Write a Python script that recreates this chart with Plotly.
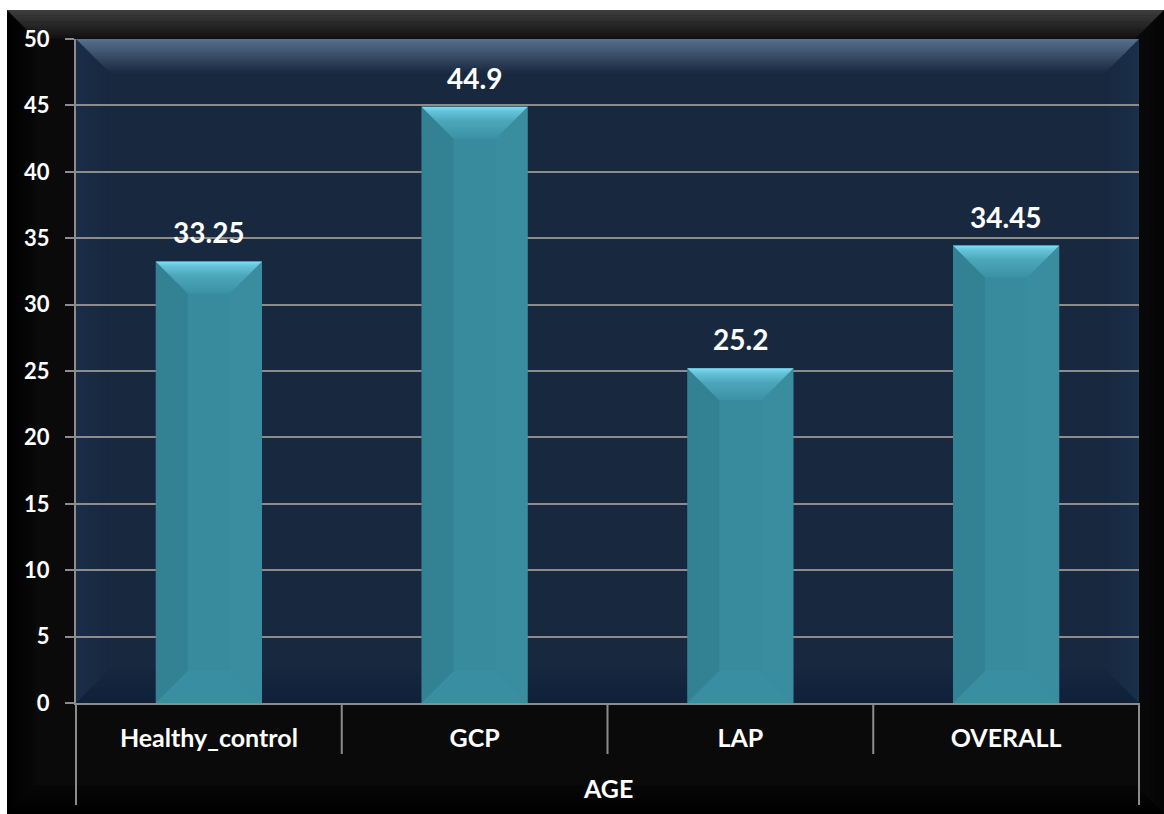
import plotly.graph_objects as go

# ---- data ----
categories = ["Healthy_control", "GCP", "LAP", "OVERALL"]
age_values = [33.25, 44.9, 25.2, 34.45]
group_label = "AGE"
y_ticks = list(range(0, 51, 5))

# ---- canvas geometry (pixels) ----
W, H = 1164, 814
ML, MR, MT, MB = 76, 25, 39, 111
PW = W - ML - MR
PH = H - MT - MB

FONT = "Lato, 'Open Sans', sans-serif"
GRID = "#8c8c8c"


def fx(px):
    return (px - ML) / PW


def fy(py):
    return (H - MB - py) / PH


def hex2rgb(c):
    c = c.lstrip("#")
    return tuple(int(c[i:i + 2], 16) for i in (0, 2, 4))


def mix(c0, c1, t):
    a, b = hex2rgb(c0), hex2rgb(c1)
    return "rgb(%d,%d,%d)" % tuple(round(a[i] + (b[i] - a[i]) * t) for i in range(3))


def poly_path(pts):
    return "M " + " L ".join("%.5f,%.5f" % (fx(x), fy(y)) for x, y in pts) + " Z"


shapes = []


def paper_poly(pts, color, layer="below"):
    shapes.append(dict(type="path", xref="paper", yref="paper", path=poly_path(pts),
                       fillcolor=color, line=dict(width=0), layer=layer))


def bevel_band(x0, y0, x1, y1, depth, side, c_out, c_in, n=16):
    """Gradient bevel band along one side of the box (x0,y0)-(x1,y1), mitred corners."""
    for i in range(n):
        a = depth * i / n
        b = depth * (i + 1) / n + 0.6
        col = mix(c_out, c_in, (i + 0.5) / n)
        if side == "top":
            pts = [(x0 + a, y0 + a), (x1 - a, y0 + a), (x1 - b, y0 + b), (x0 + b, y0 + b)]
        elif side == "bottom":
            pts = [(x0 + a, y1 - a), (x1 - a, y1 - a), (x1 - b, y1 - b), (x0 + b, y1 - b)]
        elif side == "left":
            pts = [(x0 + a, y0 + a), (x0 + b, y0 + b), (x0 + b, y1 - b), (x0 + a, y1 - a)]
        else:
            pts = [(x1 - a, y0 + a), (x1 - b, y0 + b), (x1 - b, y1 - b), (x1 - a, y1 - a)]
        paper_poly(pts, col)


# outer black frame with bevelled edges
FX0, FY0, FX1, FY1 = 7, 10, W, H
paper_poly([(FX0, FY0), (FX1, FY0), (FX1, FY1), (FX0, FY1)], "#0a0a0a")
bevel_band(FX0, FY0, FX1, FY1, 28, "left", "#000000", "#080808")
bevel_band(FX0, FY0, FX1, FY1, 28, "right", "#050505", "#0a0a0a")
bevel_band(FX0, FY0, FX1, FY1, 28, "bottom", "#000000", "#070707")
bevel_band(FX0, FY0, FX1, FY1, 28, "top", "#3e3e3e", "#121212")

# navy plot panel with bevelled edges
PX0, PY0, PX1, PY1 = ML, MT, W - MR, H - MB
paper_poly([(PX0, PY0), (PX1, PY0), (PX1, PY1), (PX0, PY1)], "#17283f")
bevel_band(PX0, PY0, PX1, PY1, 34, "left", "#1b2d48", "#17283f")
bevel_band(PX0, PY0, PX1, PY1, 34, "right", "#1c304b", "#17283f")
bevel_band(PX0, PY0, PX1, PY1, 34, "bottom", "#0f2139", "#16273e")
bevel_band(PX0, PY0, PX1, PY1, 34, "top", "#58718f", "#19293f")

# category dividers and outer frame lines below the axis
xs = list(range(len(categories)))
for i in xs[:-1]:
    shapes.append(dict(type="line", xref="x", yref="paper", x0=i + 0.5, x1=i + 0.5,
                       y0=0, y1=fy(754), line=dict(color=GRID, width=2), layer="above"))
for xe in (0, 1):
    shapes.append(dict(type="line", xref="paper", yref="paper", x0=xe, x1=xe,
                       y0=0, y1=fy(805), line=dict(color=GRID, width=2), layer="above"))

fig = go.Figure()

BAR_W = 0.4
fig.add_trace(go.Bar(x=xs, y=age_values, width=BAR_W,
                     marker=dict(color="#378b9d", line=dict(width=0)),
                     hoverinfo="skip", showlegend=False))

# bevel facets on each bar
px_per_x = PW / (len(categories))
px_per_y = PH / 50.0
bev = 32
dx = bev / px_per_x
dy = bev / px_per_y
for x, v in zip(xs, age_values):
    l, r = x - BAR_W / 2, x + BAR_W / 2
    # left facet (shaded)
    fig.add_trace(go.Scatter(x=[l, l + dx, l + dx, l, l], y=[v, v - dy, dy, 0, v],
                             mode="lines", line=dict(width=0), fill="toself",
                             fillcolor="rgba(10,40,55,0.09)", hoverinfo="skip",
                             showlegend=False))
    # right facet (slightly lit)
    fig.add_trace(go.Scatter(x=[r, r - dx, r - dx, r, r], y=[v, v - dy, dy, 0, v],
                             mode="lines", line=dict(width=0), fill="toself",
                             fillcolor="rgba(120,210,230,0.03)", hoverinfo="skip",
                             showlegend=False))
    # bottom facet
    fig.add_trace(go.Scatter(x=[l, r, r - dx, l + dx, l], y=[0, 0, dy, dy, 0],
                             mode="lines", line=dict(width=0), fill="toself",
                             fillcolor="rgba(90,195,220,0.07)", hoverinfo="skip",
                             showlegend=False))
    # top facet with highlight gradient
    fig.add_trace(go.Scatter(x=[l, r, r - dx, l + dx, l], y=[v, v, v - dy, v - dy, v],
                             mode="lines", line=dict(width=0), fill="toself",
                             fillgradient=dict(type="vertical", start=v - dy, stop=v,
                                               colorscale=[[0, "#3b91a4"], [0.55, "#4ca6ba"],
                                                           [0.85, "#64c3da"], [1, "#7edcf3"]]),
                             hoverinfo="skip", showlegend=False))

annotations = []
for x, v in zip(xs, age_values):
    annotations.append(dict(x=x, y=v, xref="x", yref="y", text=f"{v:g}", showarrow=False,
                            yanchor="bottom", yshift=10,
                            font=dict(family=FONT, size=28, color="white", weight="bold")))
annotations.append(dict(x=0.5, y=fy(788), xref="paper", yref="paper", text=group_label,
                        showarrow=False, yanchor="middle",
                        font=dict(family=FONT, size=25, color="white", weight="bold")))

fig.update_layout(
    width=W, height=H,
    margin=dict(l=ML, r=MR, t=MT, b=MB, pad=0),
    paper_bgcolor="white",
    plot_bgcolor="rgba(0,0,0,0)",
    shapes=shapes,
    annotations=annotations,
    bargap=0.6,
    xaxis=dict(range=[-0.5, len(categories) - 0.5], tickvals=xs, ticktext=categories,
               showgrid=False, zeroline=False, showline=True, linecolor=GRID, linewidth=2,
               ticks="", ticklabelstandoff=12,
               tickfont=dict(family=FONT, size=25, color="white", weight="bold"),
               fixedrange=True),
    yaxis=dict(range=[0, 50], tickvals=y_ticks, showgrid=True, gridcolor=GRID, gridwidth=2,
               zeroline=False, showline=True, linecolor=GRID, linewidth=2,
               ticks="outside", ticklen=9, tickwidth=2, tickcolor=GRID,
               ticklabelstandoff=11,
               tickfont=dict(family=FONT, size=22, color="white", weight="bold"),
               fixedrange=True),
)

fig.write_html("out.html")
